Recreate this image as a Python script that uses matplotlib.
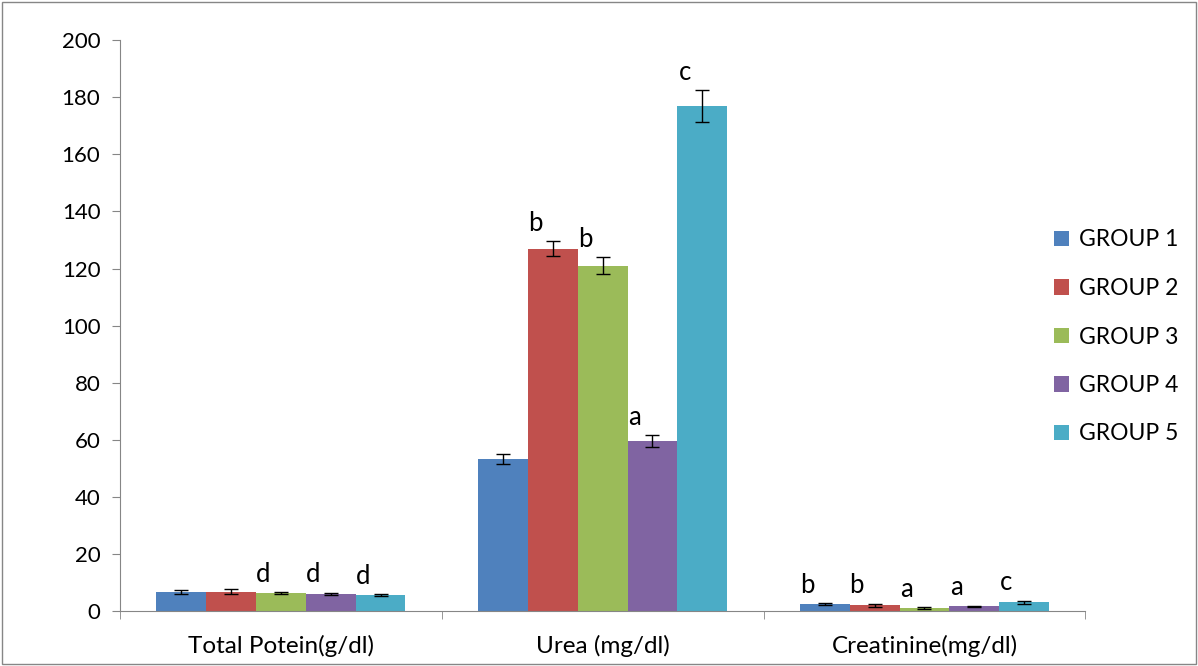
import numpy as np
import matplotlib
matplotlib.use("Agg")
from matplotlib import pyplot as plt
from matplotlib.patches import Rectangle

categories = ["Total Potein(g/dl)", "Urea (mg/dl)", "Creatinine(mg/dl)"]
groups = ["GROUP 1", "GROUP 2", "GROUP 3", "GROUP 4", "GROUP 5"]
colors = ["#4F81BD", "#C0504D", "#9BBB59", "#8064A2", "#4BACC6"]

# values per group: [total protein, urea, creatinine]
g1 = [6.7, 53.2, 2.4]
g2 = [6.8, 127.0, 2.0]
g3 = [6.2, 121.0, 1.0]
g4 = [6.0, 59.5, 1.6]
g5 = [5.6, 177.0, 3.0]
e1 = [0.8, 1.8, 0.3]
e2 = [0.8, 2.6, 0.6]
e3 = [0.4, 3.0, 0.3]
e4 = [0.4, 2.0, 0.3]
e5 = [0.3, 5.5, 0.5]
lab1 = ["", "", "b"]
lab2 = ["", "b", "b"]
lab3 = ["d", "b", "a"]
lab4 = ["d", "a", "a"]
lab5 = ["d", "c", "c"]

values = [g1, g2, g3, g4, g5]
errors = [e1, e2, e3, e4, e5]
letters = [lab1, lab2, lab3, lab4, lab5]

plt.rcParams["font.family"] = ["Lato", "DejaVu Sans"]
plt.rcParams["font.size"] = 15

fig = plt.figure(figsize=(11.98, 6.66), dpi=100)
ax = fig.add_axes([0.100, 0.0826, 0.806, 0.857])

x = np.arange(len(categories))
w = 0.155
for i in range(len(groups)):
    pos = x + (i - 2) * w
    ax.bar(pos, values[i], w, color=colors[i], label=groups[i], zorder=2)
    ax.errorbar(pos, values[i], yerr=errors[i], fmt="none", ecolor="black",
                elinewidth=1, capsize=5, capthick=1, zorder=3)
    for j in range(len(categories)):
        if letters[i][j]:
            ax.annotate(letters[i][j], (pos[j] - 0.055, values[i][j] + errors[i][j]),
                        xytext=(0, 4), textcoords="offset points",
                        ha="center", va="bottom", fontsize=18.5)

ax.set_xlim(-0.5, 2.5)
ax.set_ylim(0, 200)
ax.set_yticks(range(0, 201, 20))
ax.set_xticks(x)
ax.set_xticklabels(categories, fontsize=17.5)
ax.set_xticks([-0.5, 0.5, 1.5, 2.5], minor=True)
ax.tick_params(axis="x", which="major", length=0, pad=17)
ax.tick_params(axis="x", which="minor", length=6, color="#868686", direction="out")
ax.tick_params(axis="y", length=6, color="#868686", direction="out", pad=8, labelsize=16)
for s in ["top", "right"]:
    ax.spines[s].set_visible(False)
for s in ["left", "bottom"]:
    ax.spines[s].set_color("#868686")

leg = fig.legend(loc="center left", bbox_to_anchor=(1054 / 1198, 1 - 337 / 666), frameon=False,
                 handlelength=0.65, handleheight=0.65, labelspacing=1.2,
                 handletextpad=0.45, fontsize=16.5, borderaxespad=0, borderpad=0)

fig.patches.append(Rectangle((0.002, 0.003), 0.996, 0.994, transform=fig.transFigure,
                             fill=False, edgecolor="#868686", linewidth=1))

fig.savefig("out.png", dpi=100)
